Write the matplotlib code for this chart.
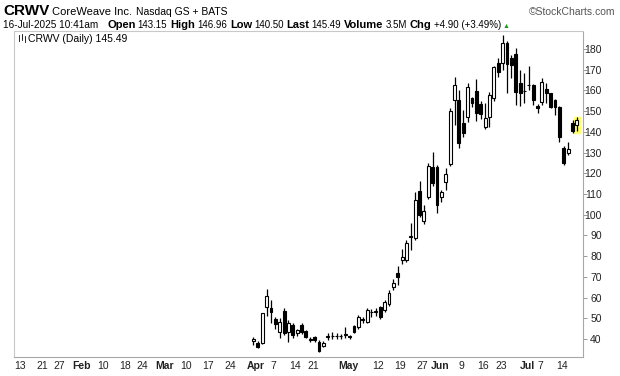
import matplotlib
matplotlib.use('Agg')
import matplotlib.pyplot as plt
from matplotlib.patches import Rectangle
from matplotlib.lines import Line2D
import pandas as pd

plt.rcParams['font.family'] = ['Liberation Sans', 'DejaVu Sans']

# trading calendar (NYSE holidays 2025, incl. Jan 9 closure)
holidays = ['2025-01-01', '2025-01-09', '2025-01-20', '2025-02-17',
            '2025-04-18', '2025-05-26', '2025-06-19', '2025-07-04']
days = pd.bdate_range('2025-01-02', '2025-07-16', freq='C', holidays=holidays)

# CRWV daily candles, Mar 28 - Jul 16 2025
opens = [39.0, 38.2, 37.9, 55.6, 54.8, 49.5, 43.2, 53.7, 43.2, 46.7,
         42.7, 46.7, 43.8, 40.0, 41.1, 38.7, 36.6, 41.0, 41.2, 41.2,
         41.4, 41.8, 41.5, 46.3, 45.9, 49.0, 48.4, 53.2, 53.0, 55.3,
         54.0, 56.9, 65.0, 72.0, 78.1, 78.1, 89.2, 88.6, 111.4, 97.1,
         108.4, 123.2, 123.2, 108.4, 115.6, 124.5, 155.4, 155.4, 144.1, 147.0,
         156.2, 159.7, 153.4, 142.5, 147.3, 156.2, 173.1, 173.1, 183.0, 175.7,
         177.6, 163.5, 159.5, 162.4, 162.6, 152.5, 154.5, 160.5, 158.6, 155.4,
         152.1, 132.0, 130.0, 144.1, 143.15]
highs = [41.0, 38.9, 52.6, 64.0, 58.8, 50.5, 50.0, 54.8, 49.0, 47.5,
         45.0, 47.5, 44.5, 41.0, 41.5, 39.5, 39.0, 43.0, 43.5, 43.0,
         42.5, 45.9, 42.0, 46.8, 51.5, 50.5, 55.0, 54.5, 55.0, 56.0,
         59.0, 63.5, 69.0, 75.0, 83.5, 88.0, 96.0, 111.0, 116.4, 104.6,
         125.0, 130.4, 124.0, 112.0, 122.5, 151.5, 166.3, 160.0, 150.5, 163.5,
         157.0, 165.4, 155.0, 153.8, 159.4, 172.0, 175.5, 187.0, 184.0, 177.0,
         180.3, 169.9, 168.3, 172.0, 163.0, 153.5, 165.9, 163.4, 159.0, 156.0,
         152.5, 133.2, 135.2, 145.7, 146.96]
lows = [37.0, 35.5, 37.5, 51.1, 47.7, 45.0, 40.5, 42.0, 38.5, 40.5,
        41.5, 42.5, 40.5, 38.5, 38.5, 33.5, 36.0, 39.5, 40.0, 40.0,
        40.2, 40.5, 39.8, 42.8, 45.0, 47.5, 47.8, 50.5, 51.0, 49.5,
        53.0, 56.0, 63.5, 66.0, 76.0, 77.0, 83.0, 88.0, 99.0, 95.5,
        107.8, 114.0, 101.0, 106.0, 112.0, 123.5, 143.3, 132.0, 137.7, 145.0,
        152.0, 145.4, 146.0, 141.2, 142.5, 155.0, 166.6, 170.0, 158.6, 166.0,
        153.0, 152.5, 153.8, 160.0, 153.0, 149.0, 153.0, 153.8, 151.5, 148.1,
        135.2, 124.0, 129.0, 139.3, 140.50]
closes = [40.0, 36.3, 52.4, 60.8, 53.2, 47.1, 48.4, 42.7, 47.9, 41.9,
          44.2, 43.5, 41.1, 39.7, 39.5, 34.2, 38.2, 41.3, 41.6, 41.4,
          41.6, 42.2, 40.8, 43.5, 50.8, 49.5, 54.0, 52.8, 53.3, 50.5,
          58.0, 62.4, 66.9, 70.0, 79.7, 86.3, 89.6, 107.1, 99.9, 101.9,
          123.5, 115.5, 104.7, 111.1, 119.5, 150.2, 162.6, 134.5, 139.3, 161.5,
          154.1, 148.9, 148.6, 146.5, 157.8, 171.2, 169.1, 182.8, 173.0, 172.3,
          159.4, 158.6, 159.9, 162.8, 155.4, 151.4, 164.2, 158.9, 152.1, 152.1,
          137.7, 125.1, 131.6, 140.59, 145.49]

yticks = list(range(40, 190, 10))
tick_dates = ['2025-01-13', '2025-01-21', '2025-01-27', '2025-02-03', '2025-02-10',
              '2025-02-18', '2025-02-24', '2025-03-03', '2025-03-10', '2025-03-17',
              '2025-03-24', '2025-04-01', '2025-04-07', '2025-04-14', '2025-04-21',
              '2025-05-01', '2025-05-12', '2025-05-19', '2025-05-27', '2025-06-02',
              '2025-06-09', '2025-06-16', '2025-06-23', '2025-07-01', '2025-07-07',
              '2025-07-14']
tick_labels = ['13', '21', '27', 'Feb', '10', '18', '24', 'Mar', '10', '17', '24',
               'Apr', '7', '14', '21', 'May', '12', '19', '27', 'Jun', '9', '16',
               '23', 'Jul', '7', '14']

W, H = 620, 376
start = days.get_loc(pd.Timestamp('2025-03-28'))
x = [start + i for i in range(len(opens))]

fig = plt.figure(figsize=(W / 100, H / 100), dpi=100)
ax = fig.add_axes([14 / W, 1 - 357 / H, (583 - 14) / W, (357 - 31) / H])

# highlight on the last bar
ax.add_patch(Rectangle((x[-1] - 0.6, 139.3), 1.2, 8.0, color='#ffff70', zorder=1))

ax.vlines(x, lows, highs, color='black', lw=0.9, zorder=2)
bottoms = [min(o, c) for o, c in zip(opens, closes)]
heights = [max(abs(c - o), 0.25) for o, c in zip(opens, closes)]
faces = ['white' if c >= o else 'black' for o, c in zip(opens, closes)]
ax.bar(x, heights, bottom=bottoms, width=0.66, color=faces,
       edgecolor='black', linewidth=0.8, zorder=3)

ax.set_xlim(start - 54.8, start + 75.4)
ax.set_ylim(31.3, 188.7)

ax.yaxis.tick_right()
ax.set_yticks(yticks)
ax.set_yticklabels([str(v) for v in yticks], fontsize=7.5, color='#222222')
for lab in ax.get_yticklabels():
    lab.set_horizontalalignment('right')
ax.tick_params(axis='y', length=3, width=0.7, color='#999999', pad=10.5)

# date labels sit a little left of their bar, as on the source chart
ax.set_xticks([days.get_loc(pd.Timestamp(d)) - 1.4 for d in tick_dates])
ax.set_xticklabels(tick_labels, fontsize=7.5, color='#222222')
for lab in ax.get_xticklabels():
    if not lab.get_text().isdigit():
        lab.set_fontweight('bold')
ax.tick_params(axis='x', length=0, pad=3)

for side in ['left', 'top']:
    ax.spines[side].set_color('#c8c8c8')
    ax.spines[side].set_linewidth(0.8)
for side in ['right', 'bottom']:
    ax.spines[side].set_color('#a8a8a8')
    ax.spines[side].set_linestyle((0, (1, 1)))
    ax.spines[side].set_linewidth(0.8)


def flow(x0, y0, parts):
    # draw text pieces one after another on a line (pixel coords, baseline)
    r = fig.canvas.get_renderer()
    xp = x0
    for s, size, weight, color, gap in parts:
        t = fig.text(xp / W, 1 - y0 / H, s, fontsize=size, fontweight=weight,
                     color=color, va='baseline', ha='left')
        xp = t.get_window_extent(r).x1 + gap


flow(3, 15, [('CRWV', 11, 'bold', 'black', 3),
             ('CoreWeave Inc.', 8, 'normal', 'black', 4),
             ('Nasdaq GS + BATS', 7.5, 'normal', 'black', 0)])
fig.text(615 / W, 1 - 15 / H, '\u00a9StockCharts.com', fontsize=7.5, color='#555555',
         ha='right', va='baseline')

flow(3, 28, [('16-Jul-2025 10:41am', 7.2, 'normal', 'black', 9),
             ('Open', 8, 'bold', 'black', 2), ('143.15', 7, 'normal', 'black', 3),
             ('High', 8, 'bold', 'black', 2), ('146.96', 7, 'normal', 'black', 3),
             ('Low', 8, 'bold', 'black', 2), ('140.50', 7, 'normal', 'black', 3),
             ('Last', 8, 'bold', 'black', 2), ('145.49', 7, 'normal', 'black', 3),
             ('Volume', 8, 'bold', 'black', 2), ('3.5M', 7, 'normal', 'black', 3),
             ('Chg', 8, 'bold', 'black', 2), ('+4.90 (+3.49%)', 7, 'normal', 'black', 2),
             ('\u25b2', 5, 'normal', '#1a9a1a', 0)])

# small candle icon + legend
ix = 18
for dx, y1, y2 in [(1, 35, 41), (4, 34, 40), (7, 36, 42)]:
    fig.add_artist(Line2D([(ix + dx) / W] * 2, [1 - y2 / H, 1 - y1 / H],
                          color='black', lw=0.6))
fig.text(28 / W, 1 - 42 / H, 'CRWV (Daily) 145.49', fontsize=7.5, color='black',
         va='baseline', ha='left')

fig.savefig('out.png', dpi=100)
